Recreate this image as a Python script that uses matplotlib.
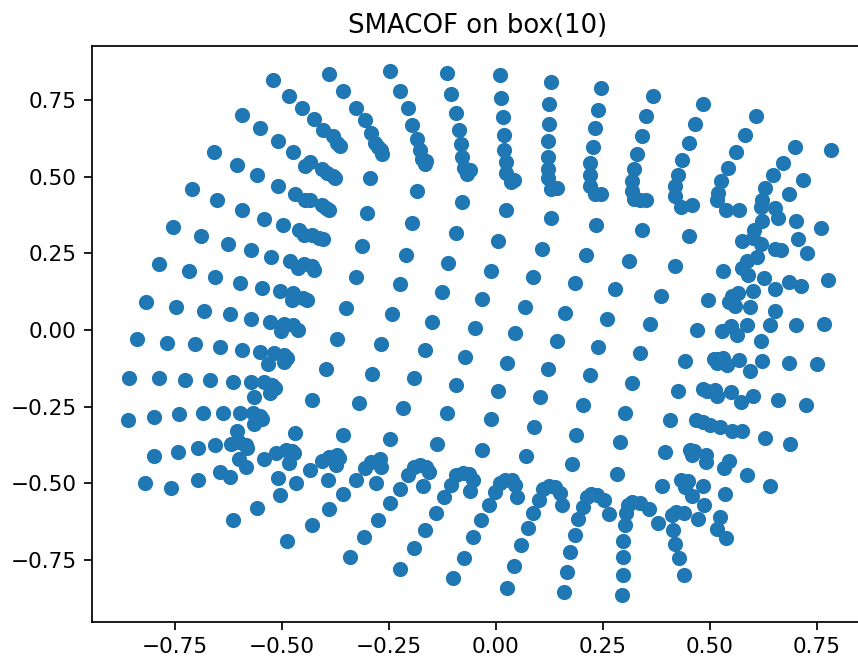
import matplotlib
matplotlib.use("Agg")
import matplotlib.pyplot as plt
import numpy as np

title = "SMACOF on box(10)"

upper_left = [
(-.520,.815),(-.484,.763),(-.452,.724),(-.425,.687),(-.403,.652),(-.381,.631),(-.372,.611),(-.364,.600),
(-.389,.835),(-.357,.778),
(-.593,.702),(-.550,.657),(-.509,.615),(-.473,.581),(-.434,.549),(-.445,.535),(-.407,.524),(-.394,.511),(-.381,.502),(-.376,.494),
(-.659,.579),(-.604,.539),(-.557,.504),(-.509,.469),(-.470,.442),(-.445,.423),(-.434,.423),(-.407,.408),(-.396,.399),(-.389,.391),
(-.710,.458),(-.652,.423),(-.593,.392),(-.542,.362),(-.498,.341),(-.459,.326),(-.448,.311),(-.429,.311),(-.413,.301),(-.403,.296),
(-.754,.336),(-.689,.305),(-.626,.280),(-.572,.260),(-.524,.239),(-.481,.224),(-.462,.203),(-.448,.214),(-.429,.209),(-.425,.196),
(-.787,.214),(-.717,.193),(-.656,.173),(-.597,.152),(-.546,.137),(-.505,.127),(-.473,.119),(-.477,.097),(-.451,.105),(-.441,.097),
(-.816,.091),(-.747,.076),(-.681,.061),(-.622,.051),(-.572,.036),(-.528,.025),(-.495,.020),(-.473,.015),(-.462,.000),(-.502,-.004),(-.349,.070),
]

lower_left = [
(-.838,-.030),(-.769,-.042),(-.703,-.046),(-.645,-.057),(-.593,-.067),(-.550,-.072),(-.517,-.076),(-.495,-.082),(-.487,-.093),(-.495,-.104),(-.532,-.112),(-.371,-.030),(-.396,-.128),
(-.857,-.158),(-.787,-.158),(-.725,-.163),(-.667,-.163),(-.615,-.169),(-.572,-.169),(-.542,-.171),(-.523,-.180),(-.516,-.191),(-.528,-.205),(-.564,-.219),(-.429,-.230),
(-.860,-.295),(-.798,-.285),(-.740,-.274),(-.685,-.270),(-.637,-.270),(-.597,-.270),(-.568,-.272),(-.550,-.281),(-.546,-.291),(-.564,-.308),(-.470,-.336),(-.356,-.342),
(-.798,-.412),(-.743,-.397),(-.696,-.386),(-.656,-.377),(-.619,-.372),(-.604,-.331),(-.600,-.365),(-.583,-.375),(-.581,-.386),(-.600,-.422),(-.583,-.448),(-.542,-.422),(-.513,-.403),(-.491,-.392),(-.476,-.394),(-.472,-.403),(-.484,-.433),(-.509,-.484),(-.466,-.499),(-.505,-.540),(-.557,-.581),(-.615,-.621),
(-.820,-.499),(-.758,-.515),(-.696,-.489),(-.645,-.464),(-.622,-.479),
(-.433,-.458),(-.407,-.428),(-.390,-.414),(-.372,-.408),(-.367,-.419),(-.374,-.441),(-.392,-.489),(-.356,-.534),(-.389,-.585),(-.429,-.636),(-.487,-.688),
]

upper_middle = [
(-.327,.724),(-.305,.683),(-.291,.641),(-.281,.609),(-.274,.597),(-.269,.587),(-.265,.573),
(-.246,.845),(-.224,.778),(-.206,.724),(-.196,.668),(-.185,.622),(-.177,.586),(-.173,.557),(-.163,.550),(-.166,.540),
(-.115,.839),(-.104,.768),(-.093,.707),(-.086,.652),(-.082,.606),(-.079,.565),(-.074,.529),(-.060,.520),(-.068,.510),
(.009,.830),(.013,.758),(.016,.693),(.020,.636),(.020,.586),(.024,.546),(.024,.513),(.042,.488),(.035,.483),
(.129,.809),(.125,.738),(.125,.672),(.122,.616),(.122,.565),(.122,.524),(.122,.494),(.144,.463),(.129,.459),
(.246,.789),(.239,.718),(.232,.657),(.228,.596),(.221,.545),(.221,.504),(.221,.470),(.246,.443),(.232,.443),
(-.294,.495),(-.301,.382),(-.312,.275),(-.327,.173),
(-.185,.453),(-.196,.347),(-.210,.244),(-.224,.148),(-.243,.051),
(-.079,.417),(-.093,.316),(-.111,.218),(-.126,.122),(-.148,.025),
(.024,.392),(.006,.290),(-.012,.193),(-.031,.102),(-.049,.005),
(.129,.366),(.108,.265),(.086,.173),(.068,.076),(.046,-.011),
(.235,.341),(.210,.244),(.184,.152),(.162,.055),(.279,.132),(.261,.036),
]

lower_middle = [
(.144,-.035),(.239,-.057),
(-.268,-.046),(-.166,-.067),(-.071,-.087),(.027,-.107),(.122,-.128),(.221,-.148),
(-.290,-.143),(-.192,-.158),(-.093,-.179),(.006,-.199),(.104,-.219),(.203,-.245),
(-.319,-.240),(-.217,-.255),(-.115,-.270),(-.012,-.291),(.089,-.317),(.188,-.342),
(-.246,-.357),(-.137,-.372),(-.031,-.393),(.071,-.412),(.177,-.439),
(-.327,-.490),(-.305,-.452),(-.292,-.430),(-.270,-.422),(-.267,-.448),(-.280,-.501),
(-.224,-.520),(-.206,-.474),(-.192,-.448),(-.177,-.441),(-.163,-.446),(-.157,-.463),(-.171,-.509),(-.246,-.566),(-.276,-.621),(-.308,-.677),(-.340,-.740),
(-.122,-.545),(-.104,-.505),(-.093,-.474),(-.076,-.468),(-.062,-.470),(-.054,-.490),(-.060,-.527),(-.140,-.596),(-.166,-.653),(-.192,-.713),(-.224,-.779),
(-.016,-.571),(-.002,-.530),(.009,-.500),(.022,-.490),(.037,-.490),(.045,-.506),(.049,-.545),(-.034,-.621),(-.053,-.677),(-.075,-.744),(-.101,-.810),
(.086,-.596),(.101,-.555),(.110,-.520),(.125,-.509),(.139,-.511),(.149,-.533),(.155,-.571),(.075,-.647),(.060,-.703),(.042,-.769),(.027,-.841),
(.192,-.617),(.203,-.577),(.213,-.544),(.222,-.536),(.236,-.539),(.253,-.555),(.264,-.601),(.185,-.668),(.174,-.723),(.166,-.790),(.159,-.856),
]

upper_right = [
(.367,.763),(.352,.697),(.341,.632),(.330,.575),(.323,.525),(.319,.484),(.319,.453),(.323,.428),(.337,.423),(.352,.423),
(.484,.738),(.466,.672),(.451,.611),(.436,.554),(.425,.504),(.418,.469),(.418,.438),(.432,.402),(.458,.408),
(.608,.697),(.583,.636),(.561,.581),(.542,.529),(.527,.484),(.520,.448),(.516,.423),(.538,.392),(.568,.392),
(.699,.596),(.670,.545),(.648,.504),(.630,.463),(.622,.423),(.619,.402),(.652,.397),(.659,.366),(.622,.356),(.604,.326),(.601,.301),(.619,.280),(.611,.239),(.652,.265),(.666,.260),
(.783,.586),(.717,.489),(.685,.443),(.702,.356),(.761,.332),(.706,.295),(.728,.250),(.576,.290),(.587,.225),(.575,.203),(.590,.178),(.531,.193),(.626,.168),(.685,.157),(.713,.142),(.776,.163),(.652,.132),(.601,.127),
(.341,.326),(.451,.305),(.312,.224),(.418,.209),(.385,.112),(.495,.097),(.360,.020),
(.551,.111),(.567,.119),(.559,.078),(.546,.091),(.593,.076),(.652,.061),(.586,.015),(.641,.015),(.702,.015),(.768,.020),(.470,.000),(.528,-.003),(.549,.011),(.563,-.018),(.619,-.036),
]

lower_right = [
(.338,-.076),(.319,-.173),(.301,-.270),(.290,-.367),(.283,-.469),
(.443,-.103),(.425,-.199),(.407,-.295),(.396,-.397),(.389,-.509),
(.509,-.096),(.520,-.096),(.532,-.093),(.516,-.109),(.540,-.115),(.568,-.097),(.593,-.133),(.622,-.103),(.685,-.107),(.750,-.112),
(.485,-.194),(.493,-.201),(.512,-.196),(.516,-.216),(.549,-.204),(.572,-.235),(.601,-.215),(.659,-.230),(.724,-.245),
(.467,-.295),(.485,-.299),(.501,-.310),(.524,-.318),(.553,-.331),(.576,-.331),(.629,-.352),(.688,-.372),
(.453,-.393),(.462,-.394),(.458,-.408),(.491,-.409),(.491,-.432),(.546,-.427),(.534,-.449),(.586,-.473),(.641,-.509),
(.433,-.490),(.450,-.493),(.442,-.511),(.458,-.541),(.484,-.509),(.535,-.534),(.487,-.570),(.473,-.617),(.524,-.610),(.516,-.649),(.538,-.678),
(.422,-.593),(.440,-.596),(.411,-.604),(.380,-.631),(.414,-.653),(.418,-.698),(.429,-.744),(.440,-.801),
(.305,-.598),(.310,-.571),(.319,-.562),(.337,-.564),(.357,-.585),(.301,-.638),(.297,-.688),(.297,-.740),(.297,-.801),(.294,-.866),
]

x_limits = (-.944, .861)
y_limits = (-.952, .926)

points = np.array(upper_left + lower_left + upper_middle + lower_middle + upper_right + lower_right)

W, H, DPI = 858, 657, 156
fig = plt.figure(figsize=(W / DPI, H / DPI), dpi=DPI)
ax = fig.add_axes([91.7 / W, (H - 621.7) / H, 772.6 / W, 575.7 / H])
ax.scatter(points[:, 0], points[:, 1])
ax.set_xlim(*x_limits)
ax.set_ylim(*y_limits)
ax.set_xticks([-.75, -.5, -.25, 0, .25, .5, .75])
ax.set_yticks([-.75, -.5, -.25, 0, .25, .5, .75])
ax.set_title(title)
fig.savefig("out.png", dpi=DPI)
